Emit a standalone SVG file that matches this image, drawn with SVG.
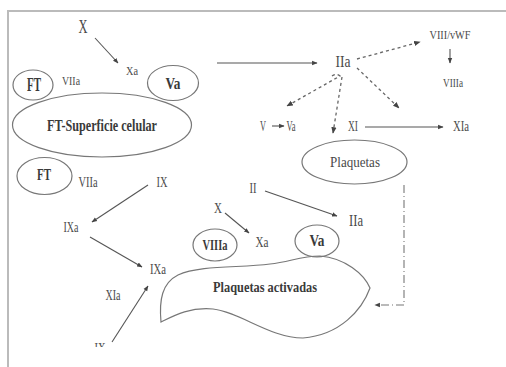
<svg xmlns="http://www.w3.org/2000/svg" width="506" height="367" viewBox="0 0 506 367">
  <style>
    .lbl { font-family: "Liberation Serif", "DejaVu Serif", serif; fill: #4a4a4a; text-anchor: middle; }
    .b { font-weight: bold; fill: #3a3a3a; }
    .shape { fill: none; stroke: #777; stroke-width: 1.2; }
    .ln { fill: none; stroke: #555; stroke-width: 1.1; marker-end: url(#ah); }
    .dot { fill: none; stroke: #666; stroke-width: 1.3; stroke-dasharray: 3 3; marker-end: url(#ah); }
  </style>
  <defs>
    <marker id="ah" viewBox="0 0 10 10" refX="9" refY="5" markerWidth="5" markerHeight="5" orient="auto">
      <path d="M0,1 L10,5 L0,9 Z" fill="#444"/>
    </marker>
    <clipPath id="cut">
      <rect x="0" y="0" width="506" height="347"/>
    </clipPath>
  </defs>
  <rect width="506" height="367" fill="#fff"/>
  <!-- frame -->
  <path d="M8,367 V11 H506" fill="none" stroke="#bbb" stroke-width="2"/>

  <g id="connectors">
    <line class="ln" x1="95" y1="38" x2="118" y2="63"/>
    <line class="ln" x1="217" y1="63" x2="317" y2="63"/>
    <line class="dot" x1="357" y1="59" x2="420" y2="42"/>
    <line class="ln" x1="450" y1="49" x2="450" y2="63"/>
    <path class="dot" d="M332,76 Q336,73 340,76 L287,106"/>
    <line class="dot" x1="342" y1="77" x2="333" y2="133"/>
    <line class="dot" x1="357" y1="68" x2="399" y2="108"/>
    <line class="ln" x1="272" y1="126" x2="284" y2="126"/>
    <line class="ln" x1="365" y1="127" x2="443" y2="127"/>
    <path d="M404,185 V305 H375" fill="none" stroke="#777" stroke-width="1.1" stroke-dasharray="8 3 1 3" marker-end="url(#ah)"/>
    <line class="ln" x1="148" y1="185" x2="92" y2="222"/>
    <line class="ln" x1="90" y1="237" x2="142" y2="267"/>
    <line class="ln" x1="112" y1="342" x2="148" y2="286"/>
    <line class="ln" x1="265" y1="191" x2="337" y2="216"/>
    <line class="ln" x1="225" y1="213" x2="249" y2="233"/>
  </g>

  <g id="cell-surface">
    <ellipse class="shape" cx="102" cy="125" rx="89.5" ry="32"/>
    <text class="lbl b" x="102" y="131" font-size="16" textLength="110" lengthAdjust="spacingAndGlyphs">FT-Superficie celular</text>
  </g>
  <g id="ft-top">
    <ellipse class="shape" cx="33" cy="85" rx="20" ry="15"/>
    <text class="lbl b" x="34" y="91" font-size="18" textLength="14" lengthAdjust="spacingAndGlyphs">FT</text>
  </g>
  <g id="va-top">
    <ellipse class="shape" cx="173" cy="83" rx="25.5" ry="17.5"/>
    <text class="lbl b" x="173" y="89" font-size="16" textLength="15" lengthAdjust="spacingAndGlyphs">Va</text>
  </g>
  <g id="ft-bottom">
    <ellipse class="shape" cx="44.5" cy="176" rx="27.5" ry="18.5"/>
    <text class="lbl b" x="44" y="180" font-size="17" textLength="14" lengthAdjust="spacingAndGlyphs">FT</text>
  </g>
  <g id="plaquetas">
    <ellipse class="shape" cx="354.5" cy="162" rx="52.5" ry="22"/>
    <text class="lbl" x="355" y="167" font-size="15" textLength="50" lengthAdjust="spacingAndGlyphs">Plaquetas</text>
  </g>
  <g id="viiia-node">
    <ellipse class="shape" cx="215" cy="245" rx="22" ry="16"/>
    <text class="lbl b" x="215" y="250" font-size="15" textLength="25" lengthAdjust="spacingAndGlyphs">VIIIa</text>
  </g>
  <g id="va-bottom">
    <ellipse class="shape" cx="317" cy="241" rx="22" ry="16"/>
    <text class="lbl b" x="317" y="246" font-size="16" textLength="15" lengthAdjust="spacingAndGlyphs">Va</text>
  </g>
  <g id="plaquetas-activadas">
    <path class="shape" d="M161,322 C159,300 162,283 178,275 C200,265 240,268 270,264 C290,262 300,256 320,256 C345,258 364,274 370,288 C362,310 340,335 303,338 C270,338 240,312 213,309 C190,307 175,315 161,322 Z"/>
    <text class="lbl b" x="265" y="292" font-size="15" textLength="104" lengthAdjust="spacingAndGlyphs">Plaquetas activadas</text>
  </g>

  <g id="labels">
    <text class="lbl" x="83" y="33" font-size="18" textLength="9" lengthAdjust="spacingAndGlyphs">X</text>
    <text class="lbl" x="132" y="75" font-size="13" textLength="12" lengthAdjust="spacingAndGlyphs">Xa</text>
    <text class="lbl" x="71" y="85" font-size="13" textLength="18" lengthAdjust="spacingAndGlyphs">VIIa</text>
    <text class="lbl" x="343" y="67" font-size="16" textLength="15" lengthAdjust="spacingAndGlyphs" fill="#333">IIa</text>
    <text class="lbl" x="450" y="39" font-size="13" textLength="41" lengthAdjust="spacingAndGlyphs">VIII/vWF</text>
    <text class="lbl" x="453" y="87" font-size="13" textLength="20" lengthAdjust="spacingAndGlyphs">VIIIa</text>
    <text class="lbl" x="263" y="131" font-size="14" textLength="6" lengthAdjust="spacingAndGlyphs">V</text>
    <text class="lbl" x="291" y="131" font-size="14" textLength="9" lengthAdjust="spacingAndGlyphs">Va</text>
    <text class="lbl" x="353" y="131" font-size="14" textLength="10" lengthAdjust="spacingAndGlyphs">XI</text>
    <text class="lbl" x="461" y="131" font-size="14" textLength="16" lengthAdjust="spacingAndGlyphs">XIa</text>
    <text class="lbl" x="88" y="187" font-size="15" textLength="19" lengthAdjust="spacingAndGlyphs">VIIa</text>
    <text class="lbl" x="162" y="187" font-size="15" textLength="11" lengthAdjust="spacingAndGlyphs">IX</text>
    <text class="lbl" x="71" y="232" font-size="15" textLength="15" lengthAdjust="spacingAndGlyphs">IXa</text>
    <text class="lbl" x="158" y="274" font-size="15" textLength="16" lengthAdjust="spacingAndGlyphs">IXa</text>
    <text class="lbl" x="113" y="300" font-size="15" textLength="15" lengthAdjust="spacingAndGlyphs">XIa</text>
    <text class="lbl" x="100" y="353" font-size="15" textLength="11" lengthAdjust="spacingAndGlyphs" clip-path="url(#cut)">IX</text>
    <text class="lbl" x="253" y="193" font-size="15" textLength="7" lengthAdjust="spacingAndGlyphs">II</text>
    <text class="lbl" x="356" y="226" font-size="16" textLength="14" lengthAdjust="spacingAndGlyphs" fill="#333">IIa</text>
    <text class="lbl" x="218" y="213" font-size="15" textLength="8" lengthAdjust="spacingAndGlyphs">X</text>
    <text class="lbl" x="262" y="247" font-size="15" textLength="13" lengthAdjust="spacingAndGlyphs">Xa</text>
  </g>
</svg>
